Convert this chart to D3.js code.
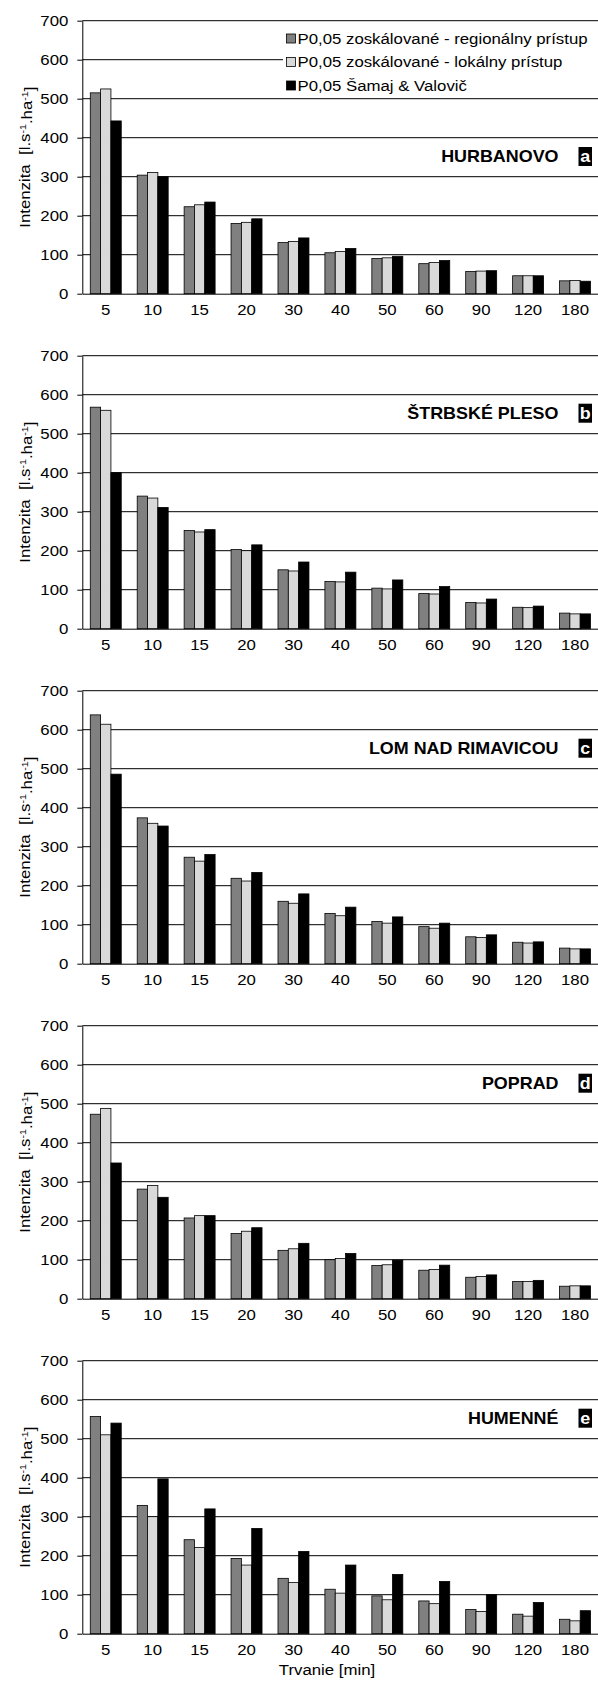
<!DOCTYPE html>
<html>
<head>
<meta charset="utf-8">
<script src="https://cdn.jsdelivr.net/npm/d3@7"></script>
<style>
body { margin: 0; background: #fff; }
svg text { font-family: "Liberation Sans", Arial, sans-serif; font-size: 15px; fill: #000; white-space: pre; }
</style>
</head>
<body>
<svg width="598" height="1681"></svg>
<script>
const durations = ["5", "10", "15", "20", "30", "40", "50", "60", "90", "120", "180"];
const seriesNames = [
    "P0,05 zoskálované - regionálny prístup",
    "P0,05 zoskálované - lokálny prístup",
    "P0,05 Šamaj & Valovič"
];
const stations = ["HURBANOVO", "ŠTRBSKÉ PLESO", "LOM NAD RIMAVICOU", "POPRAD", "HUMENNÉ"];
const letters = ["a", "b", "c", "d", "e"];
const yTicks = [0, 100, 200, 300, 400, 500, 600, 700];

// intensity [l.s-1.ha-1] per station: regional, local, Šamaj & Valovič
const hurbanovoReg = [515, 304, 223, 180, 131, 105, 90, 77, 57, 46, 33];
const hurbanovoLoc = [525, 311, 228, 183, 134, 108, 92, 80, 58, 46, 34];
const hurbanovoSam = [443, 300, 235, 192, 143, 116, 96, 85, 59, 46, 32];

const strbskeReg = [568, 340, 252, 203, 151, 121, 104, 90, 67, 55, 40];
const strbskeLoc = [560, 335, 248, 200, 148, 120, 102, 89, 66, 54, 38];
const strbskeSam = [400, 311, 254, 215, 171, 145, 125, 108, 76, 58, 38];

const lomReg = [638, 374, 273, 219, 160, 129, 108, 95, 69, 55, 40];
const lomLoc = [614, 360, 263, 212, 155, 123, 104, 91, 67, 53, 38];
const lomSam = [486, 353, 280, 234, 179, 145, 120, 104, 74, 56, 38];

const popradReg = [473, 281, 207, 167, 124, 100, 85, 73, 55, 44, 32];
const popradLoc = [488, 290, 213, 173, 128, 103, 87, 75, 57, 44, 33];
const popradSam = [348, 260, 213, 182, 142, 116, 99, 86, 61, 47, 33];

const humenneReg = [557, 329, 241, 193, 142, 114, 97, 84, 62, 50, 37];
const humenneLoc = [510, 300, 221, 176, 131, 104, 87, 77, 57, 45, 33];
const humenneSam = [540, 397, 320, 270, 211, 176, 152, 134, 100, 80, 59];

const panels = [
    [hurbanovoReg, hurbanovoLoc, hurbanovoSam],
    [strbskeReg, strbskeLoc, strbskeSam],
    [lomReg, lomLoc, lomSam],
    [popradReg, popradLoc, popradSam],
    [humenneReg, humenneLoc, humenneSam]
];

const colors = ["#808080", "#d9d9d9", "#000000"];
const SX = 1.12;               // the original font is drawn a bit wider than Arial
const plotLeft = 82.3, plotRight = 598.5, plotH = 273;
const firstTop = 20.7, panelStep = 335;
const labelOffset = [135.8, 57.5, 57.5, 57.5, 57.5];

const svg = d3.select("svg");

const x = d3.scaleBand().domain(durations).range([plotLeft, plotRight])
    .paddingInner(0.34).paddingOuter(0.17);
const xs = d3.scaleBand().domain([0, 1, 2]).range([0, x.bandwidth()]);
const y = d3.scaleLinear().domain([0, 700]).range([plotH, 0]);

panels.forEach((series, i) => {
    const top = firstTop + i * panelStep;
    const g = svg.append("g").attr("transform", `translate(0,${top})`);

    // gridlines
    g.selectAll(".grid")
        .data(yTicks.slice(1))
        .join("line")
        .attr("class", "grid")
        .attr("x1", plotLeft).attr("x2", 598)
        .attr("y1", d => y(d)).attr("y2", d => y(d))
        .attr("stroke", "#000").attr("stroke-width", 1);

    // legend sits in panel a and hides the gridline behind it
    if (i === 0) {
        g.append("rect")
            .attr("x", 283).attr("y", 27 - top)
            .attr("width", 315).attr("height", 67)
            .attr("fill", "#fff");
        const rows = [38.5, 62, 85.5];
        seriesNames.forEach((name, k) => {
            g.append("rect")
                .attr("x", 286.5).attr("y", rows[k] - top - 4.5)
                .attr("width", 9).attr("height", 9)
                .attr("fill", colors[k]).attr("stroke", "#000").attr("stroke-width", 0.8);
            g.append("text")
                .attr("transform", `translate(297.5,${rows[k] - top}) scale(${SX},1)`)
                .attr("dy", "0.35em")
                .text(name);
        });
    }

    // bars
    const grp = g.selectAll(".grp")
        .data(durations)
        .join("g")
        .attr("class", "grp")
        .attr("transform", d => `translate(${x(d)},0)`);

    grp.selectAll("rect")
        .data((d, j) => series.map((s, k) => ({ k: k, v: s[j] })))
        .join("rect")
        .attr("x", d => xs(d.k))
        .attr("y", d => y(d.v))
        .attr("width", xs.bandwidth())
        .attr("height", d => plotH - y(d.v))
        .attr("fill", d => colors[d.k])
        .attr("stroke", "#000")
        .attr("stroke-width", 0.8);

    // y axis
    const ya = g.append("g")
        .attr("transform", `translate(${plotLeft},0)`)
        .call(d3.axisLeft(y).tickValues(yTicks).tickSize(5).tickSizeOuter(0));
    ya.select(".domain").attr("stroke", "#000");
    ya.selectAll(".tick line").attr("stroke", "#000");
    ya.selectAll("text")
        .attr("x", -14 / SX)
        .attr("transform", `scale(${SX},1)`);

    // x axis
    const xa = g.append("g")
        .attr("transform", `translate(0,${plotH})`)
        .call(d3.axisBottom(x).tickSize(0).tickPadding(10.5));
    xa.select(".domain").attr("stroke", "#000");
    xa.selectAll("text").attr("transform", `scale(${SX},1)`);

    // y title
    const yt = g.append("text")
        .attr("transform", `translate(30,${plotH / 2}) rotate(-90) scale(${SX},1)`)
        .attr("text-anchor", "middle");
    yt.append("tspan").text("Intenzita  [l.s");
    yt.append("tspan").attr("dy", "-0.45em").style("font-size", "9.5px").text("-1");
    yt.append("tspan").attr("dy", "0.45em").text(".ha");
    yt.append("tspan").attr("dy", "-0.45em").style("font-size", "9.5px").text("-1");
    yt.append("tspan").attr("dy", "0.45em").text("]");

    // station label and letter box
    const ly = labelOffset[i];
    g.append("text")
        .attr("transform", `translate(558.5,${ly}) scale(${SX},1)`)
        .attr("dy", "0.35em")
        .attr("text-anchor", "end")
        .style("font-weight", "bold")
        .style("font-size", "16px")
        .text(stations[i]);
    g.append("rect")
        .attr("x", 578.5).attr("y", ly - 9.5)
        .attr("width", 13.5).attr("height", 19)
        .attr("fill", "#000");
    g.append("text")
        .attr("transform", `translate(585.25,${ly}) scale(${SX},1)`)
        .attr("dy", "0.35em")
        .attr("text-anchor", "middle")
        .style("font-weight", "bold")
        .style("font-size", "16px")
        .style("fill", "#fff")
        .text(letters[i]);
});

svg.append("text")
    .attr("transform", `translate(327,1675) scale(${SX},1)`)
    .attr("text-anchor", "middle")
    .text("Trvanie [min]");
</script>
</body>
</html>
